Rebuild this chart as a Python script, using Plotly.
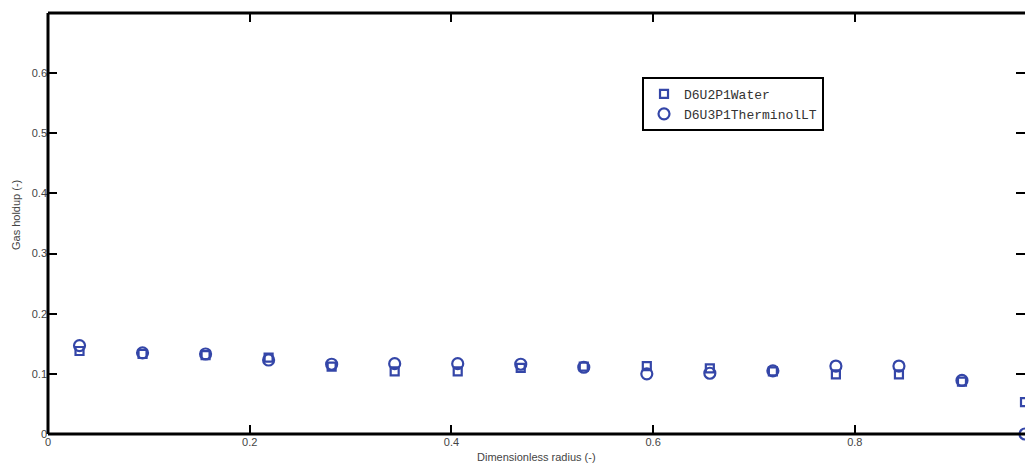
import plotly.graph_objects as go

# Radial gas-holdup profiles (16 radial positions)
radius = [0.03125, 0.09375, 0.15625, 0.21875, 0.28125, 0.34375, 0.40625, 0.46875,
          0.53125, 0.59375, 0.65625, 0.71875, 0.78125, 0.84375, 0.90625, 0.96875]
water = [0.138, 0.133, 0.131, 0.127, 0.112, 0.104, 0.104, 0.110,
         0.112, 0.113, 0.109, 0.104, 0.099, 0.099, 0.087, 0.053]
therminol = [0.147, 0.135, 0.133, 0.123, 0.116, 0.117, 0.117, 0.116,
             0.111, 0.100, 0.101, 0.105, 0.113, 0.113, 0.089, 0.000]

x_ticks = [0, 0.2, 0.4, 0.6, 0.8]
y_ticks = [0, 0.1, 0.2, 0.3, 0.4, 0.5, 0.6]

blue = "#3446A8"
label_font = dict(family="Liberation Sans, Arial, sans-serif", size=11, color="#444444")

fig = go.Figure()
fig.add_trace(go.Scatter(
    x=radius, y=water, mode="markers", name="D6U2P1Water",
    marker=dict(symbol="square-open", size=8, color=blue, line=dict(width=2.2, color=blue)),
    cliponaxis=False,
))
fig.add_trace(go.Scatter(
    x=radius, y=therminol, mode="markers", name="D6U3P1TherminolLT",
    marker=dict(symbol="circle-open", size=11, color=blue, line=dict(width=2.2, color=blue)),
    cliponaxis=False,
))

axis_common = dict(
    showgrid=False, zeroline=False, showline=False,
    ticks="inside", ticklen=9, tickwidth=2, tickcolor="black",
    mirror="ticks", tickfont=label_font,
)
fig.update_xaxes(range=[0, 0.96875], tickvals=x_ticks, **axis_common)
fig.update_yaxes(range=[0, 0.7], tickvals=y_ticks, **axis_common)

# Box outline: left, bottom and top spines
for x0, y0, x1, y1 in [(0, 0, 0, 1), (0, 0, 1, 0), (0, 1, 1, 1)]:
    fig.add_shape(type="line", xref="paper", yref="paper", x0=x0, y0=y0, x1=x1, y1=y1,
                  line=dict(color="black", width=3))

fig.add_annotation(text="Dimensionless radius (-)", xref="paper", yref="paper",
                   x=0.5, y=-0.055, yanchor="middle", showarrow=False, font=label_font)
fig.add_annotation(text="Gas holdup (-)", xref="paper", yref="paper",
                   x=-0.0328, y=0.52, xanchor="center", yanchor="middle",
                   textangle=-90, showarrow=False, font=label_font)

fig.update_layout(
    width=1025, height=464,
    margin=dict(l=48, r=0, t=13, b=30),
    paper_bgcolor="white", plot_bgcolor="white",
    legend=dict(
        x=0.608, y=0.848, xanchor="left", yanchor="top",
        bgcolor="white", bordercolor="black", borderwidth=2,
        font=dict(family="Liberation Mono, Courier New, monospace", size=13, color="#333333"),
        tracegroupgap=0, itemwidth=30,
    ),
    showlegend=True,
)

fig.write_html("out.html")
